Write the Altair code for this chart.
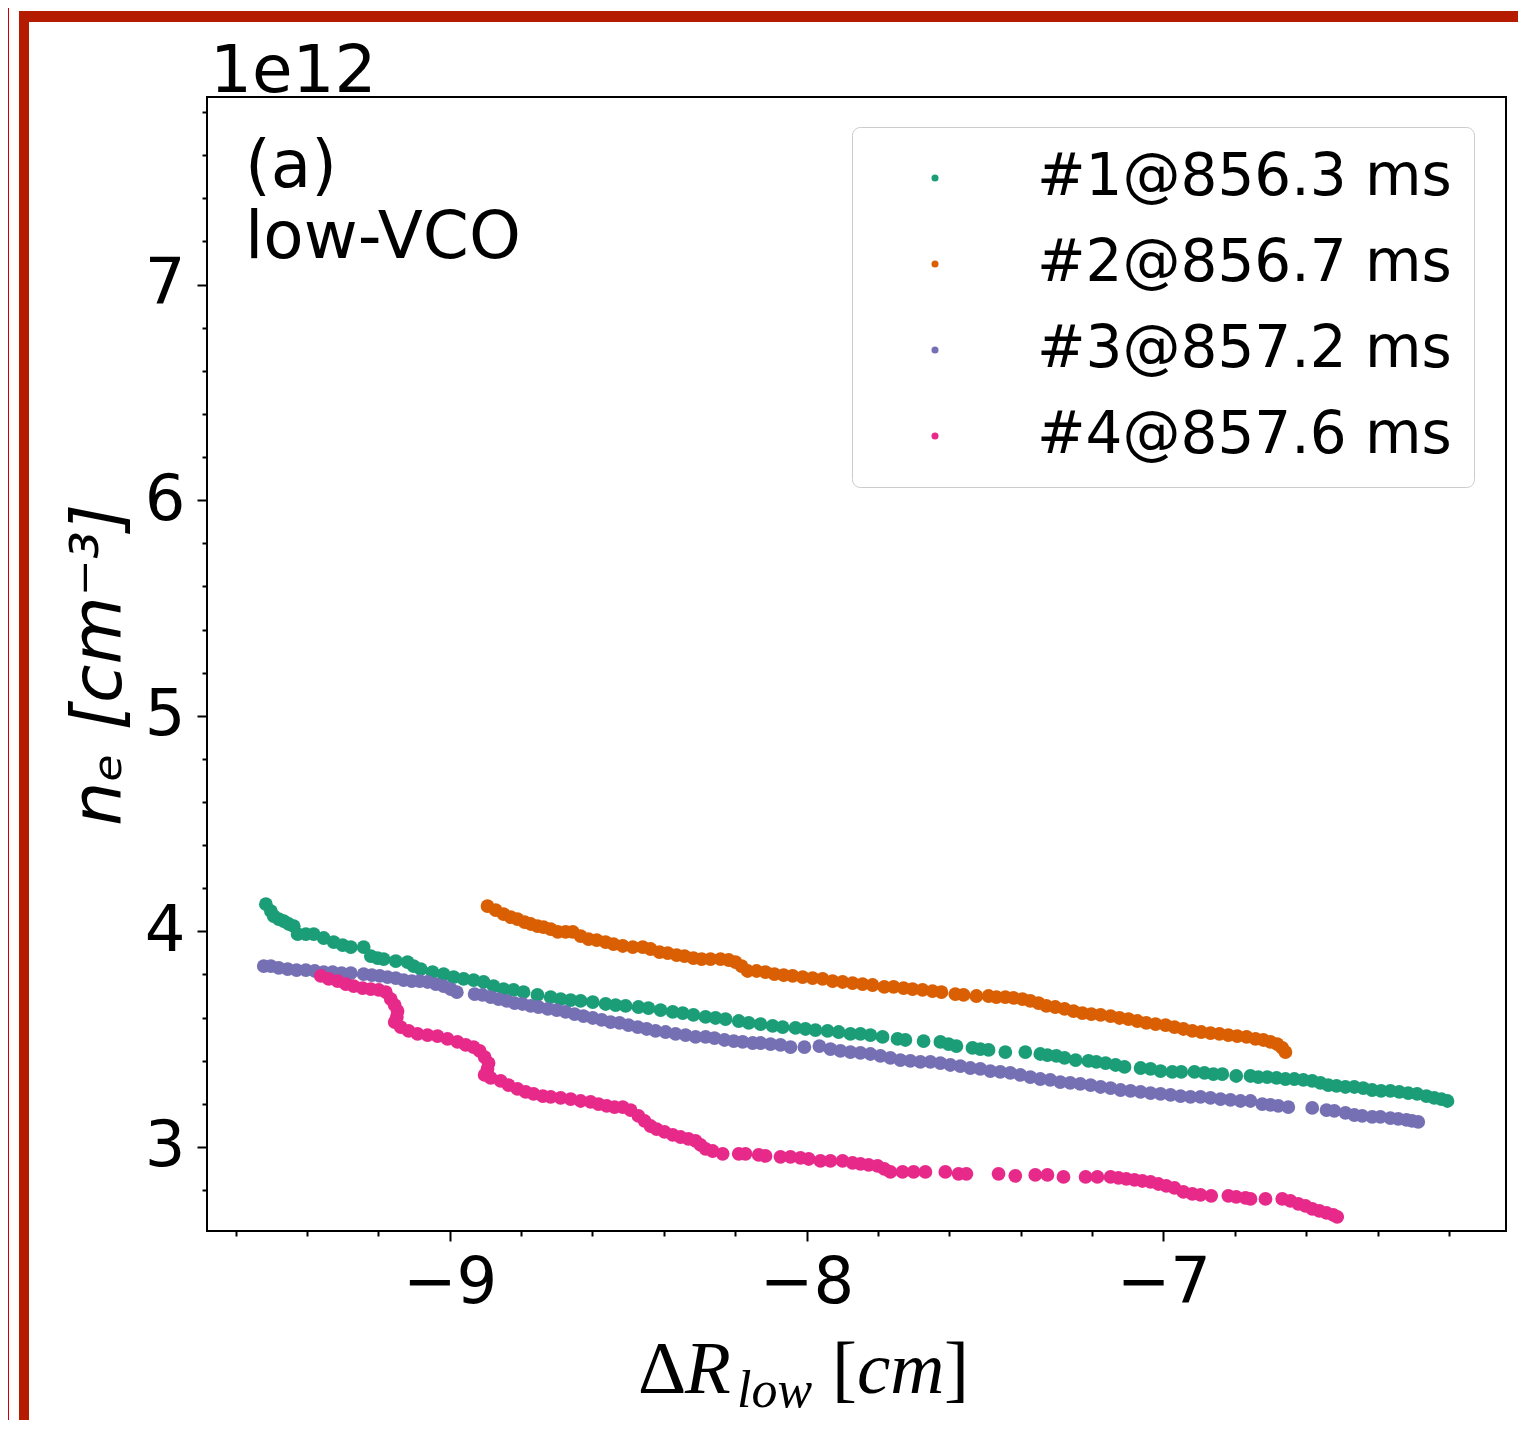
import altair as alt
import pandas as pd

# ---------------- data ----------------
series_names = ["#1@856.3 ms", "#2@856.7 ms", "#3@857.2 ms", "#4@857.6 ms"]
series_colors = ["#1b9e77", "#d95f02", "#7570b3", "#e7298a"]

s1_x = [-9.515, -9.501, -9.493, -9.479, -9.465, -9.451, -9.437, -9.426, -9.403, -9.381,
        -9.353, -9.325, -9.300, -9.277, -9.241, -9.221, -9.202, -9.185, -9.151, -9.118,
        -9.101, -9.081, -9.048, -9.017, -8.989, -8.961, -8.933, -8.905, -8.877, -8.849,
        -8.821, -8.793, -8.754, -8.717, -8.689, -8.661, -8.633, -8.599, -8.563, -8.535,
        -8.507, -8.471, -8.443, -8.409, -8.375, -8.347, -8.317, -8.283, -8.255, -8.227,
        -8.190, -8.162, -8.129, -8.095, -8.067, -8.031, -8.003, -7.975, -7.941, -7.910,
        -7.877, -7.849, -7.821, -7.787, -7.745, -7.723, -7.672, -7.625, -7.602, -7.580,
        -7.535, -7.513, -7.490, -7.443, -7.387, -7.345, -7.325, -7.300, -7.277, -7.246,
        -7.210, -7.188, -7.162, -7.134, -7.109, -7.064, -7.036, -7.008, -6.975, -6.950,
        -6.913, -6.885, -6.860, -6.835, -6.796, -6.756, -6.734, -6.709, -6.683, -6.658,
        -6.633, -6.608, -6.583, -6.560, -6.538, -6.515, -6.490, -6.465, -6.440, -6.415,
        -6.390, -6.364, -6.339, -6.314, -6.289, -6.263, -6.241, -6.221, -6.204]
s1_y = [4.126, 4.094, 4.071, 4.057, 4.047, 4.034, 4.024, 3.987, 3.987, 3.987,
        3.969, 3.950, 3.936, 3.927, 3.927, 3.885, 3.876, 3.871, 3.862, 3.857,
        3.839, 3.825, 3.811, 3.802, 3.788, 3.779, 3.774, 3.765, 3.746, 3.732,
        3.728, 3.718, 3.705, 3.695, 3.686, 3.681, 3.677, 3.672, 3.663, 3.658,
        3.654, 3.649, 3.644, 3.635, 3.626, 3.621, 3.612, 3.603, 3.598, 3.593,
        3.584, 3.575, 3.570, 3.561, 3.556, 3.552, 3.547, 3.542, 3.538, 3.533,
        3.524, 3.524, 3.519, 3.510, 3.501, 3.496, 3.491, 3.487, 3.477, 3.468,
        3.459, 3.454, 3.450, 3.440, 3.440, 3.431, 3.426, 3.422, 3.413, 3.403,
        3.399, 3.394, 3.389, 3.380, 3.371, 3.366, 3.362, 3.352, 3.348, 3.348,
        3.348, 3.343, 3.338, 3.338, 3.329, 3.329, 3.324, 3.324, 3.320, 3.315,
        3.315, 3.311, 3.306, 3.297, 3.287, 3.283, 3.278, 3.278, 3.273, 3.264,
        3.260, 3.260, 3.255, 3.250, 3.246, 3.236, 3.227, 3.222, 3.213]

s2_x = [-8.894, -8.871, -8.849, -8.829, -8.810, -8.790, -8.773, -8.754, -8.737, -8.717,
        -8.697, -8.675, -8.655, -8.633, -8.611, -8.588, -8.563, -8.541, -8.515, -8.487,
        -8.459, -8.437, -8.412, -8.389, -8.364, -8.342, -8.317, -8.294, -8.269, -8.241,
        -8.218, -8.199, -8.182, -8.165, -8.140, -8.115, -8.090, -8.064, -8.039, -8.011,
        -7.983, -7.955, -7.927, -7.899, -7.871, -7.843, -7.815, -7.782, -7.756, -7.728,
        -7.703, -7.675, -7.647, -7.622, -7.583, -7.560, -7.524, -7.490, -7.468, -7.443,
        -7.420, -7.395, -7.373, -7.350, -7.328, -7.303, -7.277, -7.252, -7.227, -7.202,
        -7.176, -7.148, -7.123, -7.098, -7.073, -7.048, -7.022, -6.994, -6.969, -6.944,
        -6.919, -6.894, -6.868, -6.843, -6.818, -6.793, -6.767, -6.742, -6.720, -6.700,
        -6.681, -6.667, -6.658]
s2_y = [4.117, 4.098, 4.080, 4.066, 4.057, 4.043, 4.034, 4.024, 4.020, 4.010,
        3.997, 3.997, 3.997, 3.978, 3.964, 3.959, 3.950, 3.941, 3.932, 3.927,
        3.927, 3.918, 3.904, 3.899, 3.890, 3.885, 3.876, 3.871, 3.871, 3.871,
        3.867, 3.857, 3.839, 3.816, 3.816, 3.811, 3.802, 3.797, 3.793, 3.788,
        3.783, 3.779, 3.769, 3.765, 3.760, 3.755, 3.751, 3.742, 3.742, 3.737,
        3.732, 3.728, 3.723, 3.718, 3.709, 3.705, 3.700, 3.700, 3.695, 3.695,
        3.691, 3.686, 3.677, 3.667, 3.654, 3.649, 3.640, 3.630, 3.621, 3.616,
        3.612, 3.607, 3.598, 3.593, 3.584, 3.575, 3.570, 3.565, 3.556, 3.547,
        3.538, 3.533, 3.528, 3.524, 3.519, 3.514, 3.510, 3.501, 3.496, 3.487,
        3.477, 3.459, 3.440]

s3_x = [-9.521, -9.501, -9.479, -9.454, -9.429, -9.403, -9.378, -9.353, -9.328, -9.303,
        -9.277, -9.241, -9.218, -9.196, -9.174, -9.151, -9.129, -9.106, -9.084, -9.062,
        -9.039, -9.017, -8.997, -8.980, -8.930, -8.908, -8.885, -8.863, -8.840, -8.818,
        -8.796, -8.773, -8.751, -8.725, -8.700, -8.675, -8.650, -8.625, -8.599, -8.574,
        -8.549, -8.524, -8.499, -8.473, -8.448, -8.423, -8.395, -8.367, -8.339, -8.311,
        -8.283, -8.258, -8.230, -8.204, -8.179, -8.151, -8.129, -8.101, -8.073, -8.045,
        -8.006, -7.964, -7.933, -7.905, -7.877, -7.849, -7.821, -7.793, -7.765, -7.737,
        -7.709, -7.681, -7.653, -7.625, -7.597, -7.569, -7.541, -7.513, -7.485, -7.457,
        -7.429, -7.401, -7.373, -7.345, -7.317, -7.289, -7.261, -7.233, -7.204, -7.176,
        -7.148, -7.120, -7.092, -7.064, -7.036, -7.008, -6.980, -6.952, -6.924, -6.896,
        -6.868, -6.840, -6.812, -6.784, -6.756, -6.723, -6.700, -6.678, -6.650, -6.583,
        -6.543, -6.521, -6.490, -6.465, -6.443, -6.415, -6.392, -6.364, -6.342, -6.319,
        -6.303, -6.286]
s3_y = [3.839, 3.839, 3.830, 3.825, 3.820, 3.820, 3.816, 3.811, 3.811, 3.806,
        3.806, 3.802, 3.797, 3.793, 3.788, 3.783, 3.774, 3.769, 3.769, 3.765,
        3.755, 3.746, 3.732, 3.718, 3.709, 3.705, 3.695, 3.686, 3.677, 3.667,
        3.663, 3.654, 3.649, 3.640, 3.635, 3.626, 3.616, 3.607, 3.598, 3.589,
        3.579, 3.575, 3.565, 3.556, 3.547, 3.538, 3.533, 3.524, 3.519, 3.510,
        3.510, 3.505, 3.496, 3.491, 3.487, 3.482, 3.482, 3.477, 3.473, 3.463,
        3.463, 3.468, 3.454, 3.445, 3.440, 3.436, 3.431, 3.422, 3.413, 3.403,
        3.399, 3.394, 3.394, 3.389, 3.380, 3.375, 3.366, 3.362, 3.352, 3.348,
        3.343, 3.334, 3.324, 3.315, 3.311, 3.301, 3.297, 3.292, 3.287, 3.278,
        3.273, 3.264, 3.260, 3.255, 3.250, 3.246, 3.241, 3.236, 3.232, 3.232,
        3.227, 3.222, 3.218, 3.213, 3.213, 3.199, 3.195, 3.190, 3.185, 3.181,
        3.171, 3.167, 3.158, 3.148, 3.144, 3.139, 3.139, 3.134, 3.130, 3.125,
        3.121, 3.116]

s4_x = [-9.361, -9.339, -9.314, -9.291, -9.269, -9.244, -9.221, -9.199, -9.179, -9.165,
        -9.154, -9.146, -9.148, -9.154, -9.137, -9.115, -9.090, -9.062, -9.034, -9.006,
        -8.978, -8.955, -8.933, -8.916, -8.902, -8.891, -8.894, -8.902, -8.885, -8.857,
        -8.835, -8.810, -8.787, -8.765, -8.739, -8.717, -8.689, -8.661, -8.633, -8.605,
        -8.583, -8.560, -8.538, -8.515, -8.493, -8.471, -8.454, -8.437, -8.420, -8.398,
        -8.375, -8.353, -8.331, -8.311, -8.297, -8.283, -8.263, -8.235, -8.190, -8.171,
        -8.134, -8.115, -8.073, -8.045, -8.017, -7.994, -7.961, -7.933, -7.899, -7.871,
        -7.849, -7.826, -7.801, -7.782, -7.765, -7.731, -7.700, -7.667, -7.611, -7.574,
        -7.552, -7.462, -7.415, -7.359, -7.325, -7.280, -7.218, -7.185, -7.148, -7.126,
        -7.104, -7.081, -7.059, -7.036, -7.014, -6.992, -6.969, -6.944, -6.919, -6.896,
        -6.866, -6.818, -6.796, -6.770, -6.756, -6.714, -6.667, -6.644, -6.622, -6.602,
        -6.583, -6.563, -6.543, -6.524, -6.513]
s4_y = [3.793, 3.779, 3.769, 3.755, 3.746, 3.737, 3.732, 3.728, 3.718, 3.686,
        3.658, 3.630, 3.603, 3.579, 3.556, 3.538, 3.524, 3.519, 3.514, 3.501,
        3.487, 3.473, 3.463, 3.445, 3.417, 3.389, 3.362, 3.334, 3.320, 3.306,
        3.287, 3.269, 3.255, 3.246, 3.236, 3.232, 3.227, 3.222, 3.213, 3.209,
        3.199, 3.190, 3.185, 3.185, 3.171, 3.144, 3.121, 3.097, 3.083, 3.070,
        3.056, 3.046, 3.037, 3.028, 3.009, 2.991, 2.981, 2.968, 2.968, 2.968,
        2.963, 2.958, 2.954, 2.954, 2.949, 2.944, 2.935, 2.935, 2.935, 2.926,
        2.921, 2.917, 2.912, 2.898, 2.884, 2.884, 2.884, 2.884, 2.884, 2.875,
        2.875, 2.875, 2.866, 2.870, 2.870, 2.861, 2.861, 2.861, 2.861, 2.856,
        2.852, 2.847, 2.842, 2.838, 2.828, 2.819, 2.810, 2.791, 2.782, 2.778,
        2.773, 2.773, 2.768, 2.764, 2.759, 2.759, 2.759, 2.750, 2.736, 2.727,
        2.713, 2.703, 2.694, 2.685, 2.676]

x_tick_values = [-9.6, -9.4, -9.2, -9.0, -8.8, -8.6, -8.4, -8.2, -8.0, -7.8, -7.6,
                 -7.4, -7.2, -7.0, -6.8, -6.6, -6.4, -6.2]
y_tick_values = [2.8, 3.0, 3.2, 3.4, 3.6, 3.8, 4.0, 4.2, 4.4, 4.6, 4.8, 5.0, 5.2,
                 5.4, 5.6, 5.8, 6.0, 6.2, 6.4, 6.6, 6.8, 7.0, 7.2, 7.4, 7.6, 7.8]

# ---------------- build table ----------------
rows = []
k = 0
for name, xs, ys in zip(series_names, [s1_x, s2_x, s3_x, s4_x], [s1_y, s2_y, s3_y, s4_y]):
    for a, b in zip(xs, ys):
        rows.append({"dR": a, "ne": b, "shot": name, "k": k})
        k += 1
df = pd.DataFrame(rows)

one = pd.DataFrame({"d": [0]})

is_major = "abs(datum.value - round(datum.value)) < 0.001"

x_axis = alt.Axis(
    values=x_tick_values, tickCount=60, title=None, grid=False, domain=False,
    labelExpr=f"{is_major} ? format(datum.value, 'd') : ''",
    tickSize={"condition": {"test": is_major, "value": 10}, "value": 5},
    tickWidth=2, tickColor="black", labelFont="DejaVu Sans", labelFontSize=64,
    labelColor="black", labelPadding=10, labelOverlap=False, labelFlush=False,
    labelBound=False,
)
y_axis = alt.Axis(
    values=y_tick_values, tickCount=60, title=None, grid=False, domain=False,
    labelExpr=f"{is_major} ? format(datum.value, 'd') : ''",
    tickSize={"condition": {"test": is_major, "value": 10}, "value": 5},
    tickWidth=2, tickColor="black", labelFont="DejaVu Sans", labelFontSize=64,
    labelColor="black", labelPadding=12, labelOverlap=False, labelFlush=False,
    labelBound=False,
)

points = alt.Chart(df).mark_circle(size=190, opacity=1).encode(
    x=alt.X("dR:Q", scale=alt.Scale(domain=[-9.68, -6.04], nice=False, zero=False), axis=x_axis),
    y=alt.Y("ne:Q", scale=alt.Scale(domain=[2.61, 7.87], nice=False, zero=False), axis=y_axis),
    color=alt.Color(
        "shot:N",
        scale=alt.Scale(domain=series_names, range=series_colors),
        legend=alt.Legend(
            title=None, orient="none", legendX=645, legendY=30,
            padding=22, rowPadding=28, symbolOffset=32, labelOffset=73,
            labelFont="DejaVu Sans", labelFontSize=58, labelColor="black",
            labelLimit=1000, symbolType="circle", symbolSize=50,
            symbolStrokeWidth=0, strokeColor="#cccccc", cornerRadius=8,
            fillColor="white",
        ),
    ),
    order=alt.Order("k:Q"),
)


def label(text, x, y, size, font="DejaVu Sans", style="normal", angle=0, align="left",
          baseline="alphabetic"):
    return alt.Chart(one).mark_text(
        text=text, font=font, fontSize=size, fontStyle=style, angle=angle,
        align=align, baseline=baseline, color="black",
    ).encode(x=alt.value(x), y=alt.value(y))


texts = [
    label("1e12", 3, -5, 66),
    label("(a)", 38, 90, 66),
    label("low-VCO", 38, 161, 66),
    label("nₑ [cm⁻³]", -86, 568, 70, style="italic", angle=270, align="center"),
    label("Δ", 431, 1296, 75, font="Liberation Serif"),
    label("R", 478, 1296, 75, font="Liberation Serif", style="italic"),
    label("low", 530, 1310, 52, font="Liberation Serif", style="italic"),
    label("[", 625, 1296, 75, font="Liberation Serif"),
    label("cm", 650, 1296, 75, font="Liberation Serif", style="italic"),
    label("]", 737, 1296, 75, font="Liberation Serif"),
]

# decorative red frame of the screenshot
frame = [
    alt.Chart(one).mark_rule(color="#b51b00", strokeWidth=11, strokeCap="butt").encode(
        x=alt.value(-188), x2=alt.value(1311), y=alt.value(-80.5)),
    alt.Chart(one).mark_rule(color="#b51b00", strokeWidth=10, strokeCap="butt").encode(
        x=alt.value(-183), y=alt.value(-86), y2=alt.value(1325)),
    alt.Chart(one).mark_rule(color="#c8000c", strokeWidth=2, strokeCap="butt").encode(
        x=alt.value(-199), y=alt.value(-89), y2=alt.value(1325)),
]

chart = alt.layer(*frame, points, *texts).properties(
    width=1299, height=1134,
    autosize=alt.AutoSizeParams(type="none"),
    padding={"left": 199, "top": 89, "right": 12, "bottom": 189},
    background="white",
).configure_view(
    stroke="black", strokeWidth=2
)

chart.save("out.html", embed_options={"renderer": "svg", "actions": False})
